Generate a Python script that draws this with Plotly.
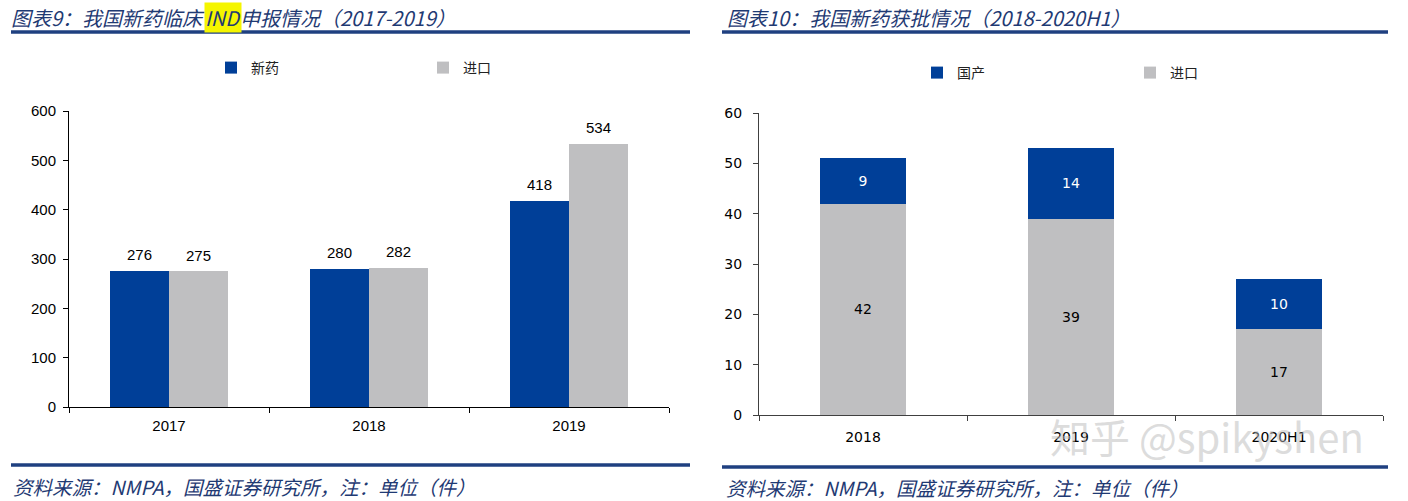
import plotly.graph_objects as go

W, H = 1408, 501

# ---------------- data ----------------
ind_years = ["2017", "2018", "2019"]
ind_new = [276, 280, 418]        # 新药
ind_import = [275, 282, 534]     # 进口

appr_years = ["2018", "2019", "2020H1"]
appr_import = [42, 39, 17]       # 进口
appr_domestic = [9, 14, 10]      # 国产

left_yticks = [0, 100, 200, 300, 400, 500, 600]
right_yticks = [0, 10, 20, 30, 40, 50, 60]

BLUE = "#003f98"
GREY = "#bfbfc1"
NAVY = "#1f3a73"

def px(x):
    return x / W

def py(y):
    return 1 - y / H

fig = go.Figure()

# ---- left chart: grouped bars (overlay with explicit offsets) ----
bw = 0.295
fig.add_trace(go.Bar(x=ind_years, y=ind_new, name="新药", marker_color=BLUE,
                     base=0, offset=-bw, width=bw, xaxis="x", yaxis="y",
                     legend="legend"))
fig.add_trace(go.Bar(x=ind_years, y=ind_import, name="进口", marker_color=GREY,
                     base=0, offset=0, width=bw, xaxis="x", yaxis="y",
                     legend="legend"))

# ---- right chart: stacked bars (import at bottom) ----
fig.add_trace(go.Bar(x=appr_years, y=appr_import, name="进口", marker_color=GREY,
                     width=0.41, xaxis="x2", yaxis="y2", legend="legend2",
                     text=[str(v) for v in appr_import], textposition="inside",
                     insidetextanchor="middle", textangle=0,
                     textfont=dict(family="DejaVu Sans", size=14, color="black")))
fig.add_trace(go.Bar(x=appr_years, y=appr_domestic, name="国产", marker_color=BLUE,
                     width=0.41, xaxis="x2", yaxis="y2", legend="legend2",
                     text=[str(v) for v in appr_domestic], textposition="inside",
                     insidetextanchor="middle", textangle=0,
                     textfont=dict(family="DejaVu Sans", size=14, color="white")))

annotations = []
label_font = dict(family="Liberation Sans, Arial", size=15, color="black")
# data labels for left chart (category index positions)
for i, v in enumerate(ind_new):
    annotations.append(dict(x=i, y=v, xref="x", yref="y", text=str(v), showarrow=False,
                            xshift=-29.5, yshift=16, yanchor="middle", font=label_font))
for i, v in enumerate(ind_import):
    annotations.append(dict(x=i, y=v, xref="x", yref="y", text=str(v), showarrow=False,
                            xshift=29.5, yshift=16, yanchor="middle", font=label_font))

title_font = dict(family="Noto Sans CJK SC", size=20, color=NAVY)
# left title in three pieces (IND highlighted)
annotations.append(dict(x=px(206), y=py(17), xref="paper", yref="paper", xanchor="right",
                        yanchor="middle", showarrow=False, text="<i>图表9：我国新药临床</i>",
                        font=title_font, borderpad=0))
annotations.append(dict(x=px(204), y=py(17), xref="paper", yref="paper", xanchor="left",
                        yanchor="middle", showarrow=False, text="<i>IND</i>", bgcolor="#f5f500",
                        borderpad=0, font=title_font))
annotations.append(dict(x=px(239), y=py(17), xref="paper", yref="paper", xanchor="left",
                        yanchor="middle", showarrow=False, text="<i>申报情况（2017-2019）</i>",
                        font=title_font, borderpad=0))
annotations.append(dict(x=px(726), y=py(17), xref="paper", yref="paper", xanchor="left",
                        yanchor="middle", showarrow=False,
                        text="<i>图表10：我国新药获批情况（2018-2020H1）</i>", font=title_font,
                        borderpad=0))

foot_font = dict(family="Noto Sans CJK SC", size=19.5, color=NAVY)
annotations.append(dict(x=px(12), y=py(486), xref="paper", yref="paper", xanchor="left",
                        yanchor="middle", showarrow=False,
                        text="<i>资料来源：NMPA，国盛证券研究所，注：单位（件）</i>", font=foot_font,
                        borderpad=0))
annotations.append(dict(x=px(725), y=py(487), xref="paper", yref="paper", xanchor="left",
                        yanchor="middle", showarrow=False,
                        text="<i>资料来源：NMPA，国盛证券研究所，注：单位（件）</i>", font=foot_font,
                        borderpad=0))

# watermark
annotations.append(dict(x=px(1207), y=py(436), xref="paper", yref="paper", xanchor="center",
                        yanchor="middle", showarrow=False, text="知乎 @spikyshen",
                        font=dict(family="Noto Sans CJK SC", size=40, color="rgba(185,185,185,0.5)")))

shapes = []
for (x0, x1, y) in [(11, 690, 32), (722, 1388, 32), (11, 690, 465), (722, 1388, 467)]:
    shapes.append(dict(type="line", xref="paper", yref="paper", x0=px(x0), x1=px(x1),
                       y0=py(y), y1=py(y), line=dict(color="#1f4080", width=3.5)))

fig.update_layout(
    template="none",
    width=W, height=H,
    margin=dict(l=0, r=0, t=0, b=0, pad=0, autoexpand=False),
    paper_bgcolor="white", plot_bgcolor="white",
    barmode="stack",
    showlegend=True,
    xaxis=dict(domain=[px(69), px(669)], type="category", range=[-0.5, 2.5],
               showline=True, linecolor="black", linewidth=1, automargin=False,
               ticks="outside", tickson="boundaries", ticklen=5, tickcolor="black",
               ticklabelstandoff=5,
               tickfont=dict(family="Liberation Sans, Arial", size=15, color="black"),
               showgrid=False, zeroline=False, fixedrange=True),
    yaxis=dict(domain=[py(407), py(111)], range=[0, 600], tickvals=left_yticks,
               showline=True, linecolor="black", linewidth=1, automargin=False,
               ticks="outside", ticklen=5, tickcolor="black", ticklabelstandoff=4,
               tickfont=dict(family="Liberation Sans, Arial", size=15, color="black"),
               showgrid=False, zeroline=False),
    xaxis2=dict(domain=[px(759), px(1383)], type="category", range=[-0.5, 2.5], anchor="y2",
                showline=True, linecolor="#404040", linewidth=1, automargin=False,
                ticks="outside", tickson="boundaries", ticklen=5, tickcolor="#404040",
                ticklabelstandoff=9,
                tickfont=dict(family="DejaVu Sans", size=14, color="black"),
                showgrid=False, zeroline=False),
    yaxis2=dict(domain=[py(415), py(113)], range=[0, 60], tickvals=right_yticks, anchor="x2",
                showline=True, linecolor="#404040", linewidth=1, automargin=False,
                ticks="outside", ticklen=5, tickcolor="#404040", ticklabelstandoff=8,
                tickfont=dict(family="DejaVu Sans", size=14, color="black"),
                showgrid=False, zeroline=False),
    legend=dict(orientation="h", x=px(211), y=py(68), xanchor="left", yanchor="middle",
                entrywidth=167, entrywidthmode="pixels", itemwidth=30,
                font=dict(family="Noto Sans CJK SC", size=14, color="#222222"),
                bgcolor="rgba(0,0,0,0)", traceorder="normal"),
    legend2=dict(orientation="h", x=px(917), y=py(73), xanchor="left", yanchor="middle",
                 entrywidth=168, entrywidthmode="pixels", itemwidth=30,
                 font=dict(family="Noto Sans CJK SC", size=14, color="#222222"),
                 bgcolor="rgba(0,0,0,0)", traceorder="reversed"),
    annotations=annotations,
    shapes=shapes,
)

fig.write_html("out.html", config={"displayModeBar": False},
               post_script="document.body.style.margin='0';document.body.style.overflow='hidden';")
